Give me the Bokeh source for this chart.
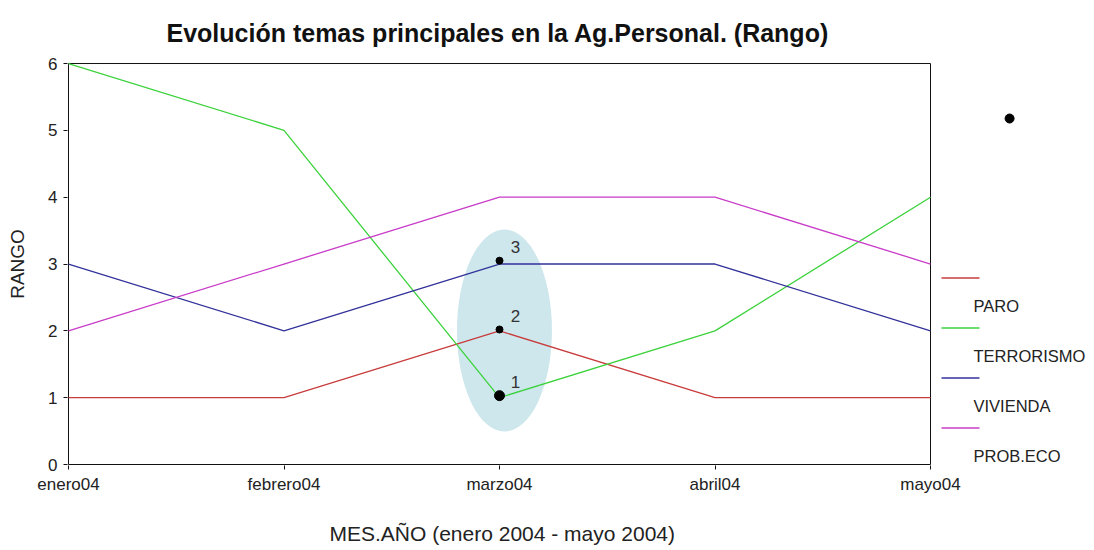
from bokeh.plotting import figure
from bokeh.models import Range1d, FixedTicker, Title
from bokeh.core.properties import value
from bokeh.embed import file_html
from bokeh.resources import INLINE

# ---- data ----
months = ["enero04", "febrero04", "marzo04", "abril04", "mayo04"]
series_names = ["PARO", "TERRORISMO", "VIVIENDA", "PROB.ECO"]
paro = [1, 1, 2, 1, 1]
terrorismo = [6, 5, 1, 2, 4]
vivienda = [3, 2, 3, 3, 2]
prob_eco = [2, 3, 4, 4, 3]
colors = ["#c83c3c", "#3cd23c", "#32329a", "#c83cc8"]

# highlighted points in marzo04 (ranks 3, 2, 1)
hl_x = [2, 2, 2]
hl_y = [3.05, 2.02, 1.03]
hl_labels = ["3", "2", "1"]
hl_sizes = [7, 7, 10]

FONT = "Liberation Sans"
xs = list(range(len(months)))

# pixel geometry of the frame
W, H = 1090, 548
frame_left, frame_right = 67, W - 1
frame_top, frame_bottom = 62, 465
px_x = 215.5  # pixels per month
px_y = 66.83  # pixels per rank unit
x_start = -1 / px_x
x_end = x_start + (frame_right - frame_left) / px_x
y_start = -1 / px_y
y_end = y_start + (frame_bottom - frame_top) / px_y

p = figure(width=W, height=H, output_backend="svg", toolbar_location=None,
           x_range=Range1d(x_start, x_end), y_range=Range1d(y_start, y_end),
           min_border_left=frame_left, min_border_right=W - frame_right,
           min_border_top=frame_top, min_border_bottom=H - frame_bottom)
p.outline_line_color = None
p.grid.visible = False
p.background_fill_color = "white"
p.border_fill_color = "white"

# title
p.title.text = "Evolución temas principales en la Ag.Personal. (Rango)"
p.title.text_font = FONT
p.title.text_font_size = "25px"
p.title.text_font_style = "bold"
p.title.text_color = "#111111"
p.title.align = "left"
p.title.offset = 99
p.title.standoff = 32

# axes
p.xaxis.ticker = FixedTicker(ticks=xs)
p.xaxis.major_label_overrides = {i: m for i, m in enumerate(months)}
p.yaxis.ticker = FixedTicker(ticks=[0, 1, 2, 3, 4, 5, 6])
for ax in (p.xaxis, p.yaxis):
    ax.axis_line_color = None
    ax.major_tick_in = 0
    ax.major_tick_out = 4
    ax.minor_tick_line_color = None
    ax.major_tick_line_color = "#111111"
    ax.major_label_text_font = FONT
    ax.major_label_text_font_size = "17px"
    ax.major_label_text_color = "#222222"
p.xaxis.major_label_standoff = 5
p.yaxis.major_label_standoff = 6
p.yaxis.axis_label = "RANGO"
p.yaxis.axis_label_text_font = FONT
p.yaxis.axis_label_text_font_size = "19px"
p.yaxis.axis_label_text_font_style = "normal"
p.yaxis.axis_label_text_color = "#222222"
p.yaxis.axis_label_standoff = 17

# spacer, then x-axis title positioned under the plot box
p.add_layout(Title(text=" ", text_font_size="10px", standoff=8), "below")
p.add_layout(Title(text="MES.AÑO (enero 2004 - mayo 2004)", align="left", offset=262,
                   text_font=FONT, text_font_size="21px", text_font_style="normal",
                   text_color="#222222", standoff=4), "below")

# plot box
p.quad(left=[0], right=[len(months) - 1], bottom=[0], top=[6],
       fill_color=None, line_color="#111111", line_width=1)

# highlight ellipse
p.ellipse(x=[2.023], y=[2.005], width=[95 / px_x], height=[202 / px_y],
          fill_color="#cde7ec", line_color=None)

# series lines
for vals, c in zip([paro, terrorismo, vivienda, prob_eco], colors):
    p.line(xs, vals, line_color=c, line_width=1.3)

# highlighted points
p.scatter(hl_x, hl_y, size=hl_sizes, color="black")
p.text(hl_x, hl_y, text=hl_labels, x_offset=16, y_offset=-14,
       text_font=value(FONT), text_font_size="17px", text_color="#333333",
       text_align="center", text_baseline="middle")

# stray marker to the right
p.scatter([4.367], [5.177], size=9, color="black")

# manual legend
leg_x0 = (942 - 69) / px_x
leg_x1 = (980 - 69) / px_x
leg_tx = (974 - 69) / px_x
leg_top = (465 - 277.5) / px_y + y_start
leg_step = 50 / px_y
for i, (name, c) in enumerate(zip(series_names, colors)):
    yy = leg_top - i * leg_step
    p.line([leg_x0, leg_x1], [yy, yy], line_color=c, line_width=1.3)
    p.text([leg_tx], [yy - 28 / px_y], text=[name], text_font=value(FONT),
           text_font_size="16.5px", text_color="#222222", text_baseline="middle")

open("out.html", "w").write(file_html(p, INLINE))
